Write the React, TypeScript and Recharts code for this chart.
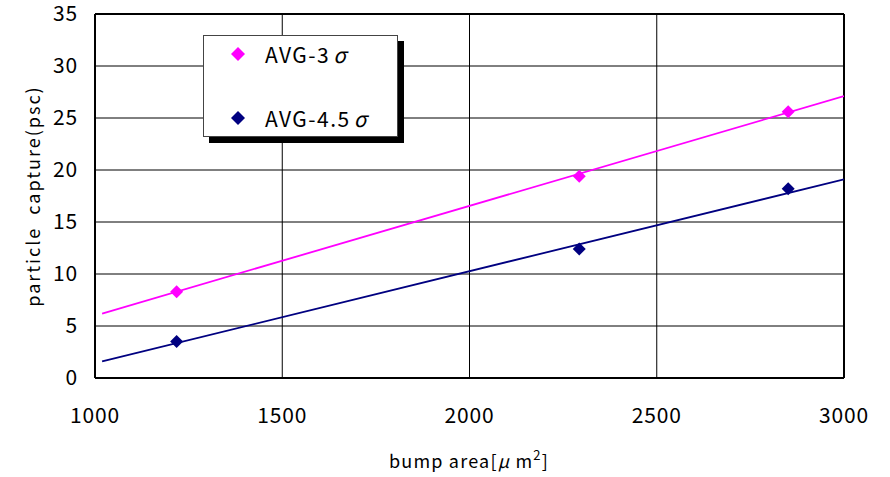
import { ComposedChart, Scatter, XAxis, YAxis, CartesianGrid, ReferenceLine, Label } from "recharts";

const xTicks = [1000, 1500, 2000, 2500, 3000];
const yTicks = [0, 5, 10, 15, 20, 25, 30, 35];

// measured points
const bumpArea = [1218, 2293, 2851];
const avg3 = [8.3, 19.4, 25.6];
const avg45 = [3.5, 12.4, 18.2];

// trend line end points
const trendX = [1019, 3000];
const avg3Trend = [6.2, 27.1];
const avg45Trend = [1.6, 19.1];

const MAGENTA = "#ff00ff";
const NAVY = "#000080";
const FONT = "'Noto Sans CJK JP', 'DejaVu Sans', sans-serif";

const avg3Data = bumpArea.map((x, i) => ({ x, y: avg3[i] }));
const avg45Data = bumpArea.map((x, i) => ({ x, y: avg45[i] }));
const avg3Line = trendX.map((x, i) => ({ x, y: avg3Trend[i] }));
const avg45Line = trendX.map((x, i) => ({ x, y: avg45Trend[i] }));

const legendItems = [
  { name: "AVG-3", color: MAGENTA },
  { name: "AVG-4.5", color: NAVY },
];

function Diamond({ color }: { color: string }) {
  return (
    <svg width={14} height={14} style={{ display: "block" }}>
      <polygon points="7,0 14,7 7,14 0,7" fill={color} />
    </svg>
  );
}

function LegendBox() {
  return (
    <div
      style={{
        position: "absolute",
        left: 203,
        top: 35,
        width: 195,
        height: 102,
        border: "1px solid #444",
        background: "#fff",
        boxShadow: "6px 6px 0 #000",
        fontFamily: FONT,
        fontSize: 21,
        letterSpacing: 1.5,
        color: "#000",
        display: "flex",
        flexDirection: "column",
        justifyContent: "space-between",
        padding: "5px 0",
        boxSizing: "border-box",
      }}
    >
      {legendItems.map((it) => (
        <div key={it.name} style={{ display: "flex", alignItems: "center", height: 26 }}>
          <div style={{ marginLeft: 27, marginRight: 20 }}>
            <Diamond color={it.color} />
          </div>
          <span>
            {it.name}
            <span style={{ fontStyle: "italic", marginLeft: 3 }}>σ</span>
          </span>
        </div>
      ))}
    </div>
  );
}

const noDot = () => <g />;

const diamondShape = (color: string) => (props: any) => {
  const { cx, cy } = props;
  const r = 6.5;
  return <polygon points={`${cx},${cy - r} ${cx + r},${cy} ${cx},${cy + r} ${cx - r},${cy}`} fill={color} />;
};

const tickStyle = { fill: "#000", fontSize: 21, fontFamily: FONT, letterSpacing: 0.8 };

export default function App() {
  return (
    <div style={{ position: "absolute", left: 0, top: 0, width: 890, height: 477, background: "#fff" }}>
      <ComposedChart width={890} height={477} margin={{ top: 14, right: 46, bottom: 0, left: 0 }}>
        <CartesianGrid stroke="#000" strokeWidth={1} />
        <XAxis
          type="number"
          dataKey="x"
          domain={[1000, 3000]}
          ticks={xTicks}
          height={99}
          tickSize={0}
          tickMargin={30}
          axisLine={{ stroke: "#000", strokeWidth: 2 }}
          tick={tickStyle}
          allowDataOverflow
        >
          <Label
            content={() => (
              <text
                x={469}
                y={468}
                textAnchor="middle"
                fontSize={18}
                fontFamily={FONT}
                fill="#000"
                letterSpacing={1.2}
                style={{ whiteSpace: "pre" }}
              >
                bump area[<tspan fontStyle="italic">μ</tspan> m<tspan dy={-8} fontSize={13}>2</tspan><tspan dy={8}>]</tspan>
              </text>
            )}
          />
        </XAxis>
        <YAxis
          type="number"
          dataKey="y"
          domain={[0, 35]}
          ticks={yTicks}
          width={95}
          tickSize={0}
          tickMargin={17}
          axisLine={{ stroke: "#000", strokeWidth: 2 }}
          tick={tickStyle}
          allowDataOverflow
        >
          <Label
            content={() => (
              <text
                x={32}
                y={196}
                transform="rotate(-90 32 196)"
                textAnchor="middle"
                dominantBaseline="central"
                fontSize={18}
                fontFamily={FONT}
                fill="#000"
                letterSpacing={2}
                style={{ whiteSpace: "pre" }}
              >
                particle  capture(psc)
              </text>
            )}
          />
        </YAxis>
        <ReferenceLine y={35} stroke="#000" strokeWidth={2} />
        <ReferenceLine x={3000} stroke="#000" strokeWidth={2} />
        <Scatter
          name="trend3"
          data={avg3Line}
          line={{ stroke: MAGENTA, strokeWidth: 1.8 }}
          shape={noDot}
          isAnimationActive={false}
        />
        <Scatter
          name="trend45"
          data={avg45Line}
          line={{ stroke: NAVY, strokeWidth: 1.8 }}
          shape={noDot}
          isAnimationActive={false}
        />
        <Scatter name="AVG-3σ" data={avg3Data} shape={diamondShape(MAGENTA)} isAnimationActive={false} />
        <Scatter name="AVG-4.5σ" data={avg45Data} shape={diamondShape(NAVY)} isAnimationActive={false} />
      </ComposedChart>
      <LegendBox />
    </div>
  );
}
